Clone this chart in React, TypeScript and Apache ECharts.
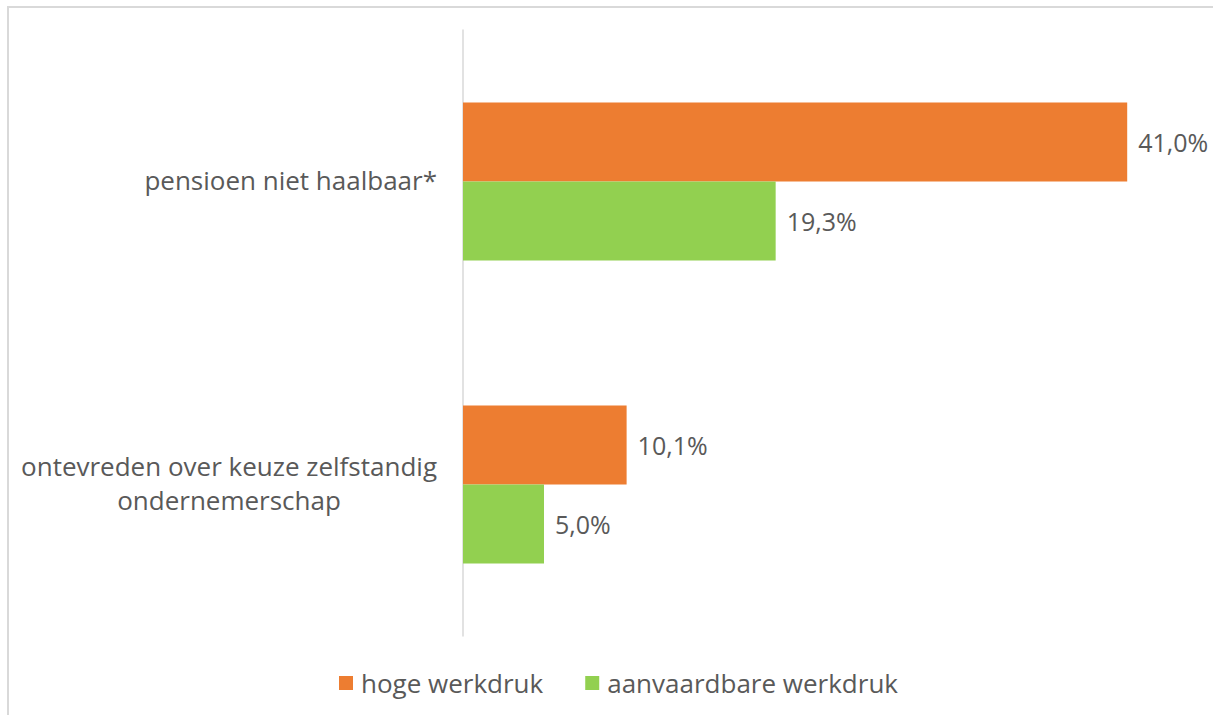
import React, { useEffect, useRef } from "react";
import * as echarts from "echarts";

const categories = ["pensioen niet haalbaar*", "ontevreden over keuze zelfstandig\nondernemerschap"];
const seriesNames = ["hoge werkdruk", "aanvaardbare werkdruk"];
const hogeWerkdruk = [41.0, 10.1];
const aanvaardbareWerkdruk = [19.3, 5.0];

const TEXT = "#595959";
const FONT = "'Open Sans', sans-serif";

export default function App() {
  const ref = useRef<HTMLDivElement>(null);
  useEffect(() => {
    if (!ref.current) return;
    const chart = echarts.init(ref.current, undefined, { renderer: "svg" });
    const fmt = (p: any) => p.value.toFixed(1).replace(".", ",") + "%";
    chart.setOption({
      animation: false,
      textStyle: { fontFamily: FONT },
      graphic: [
        { type: "line", shape: { x1: 7, y1: 7, x2: 1213, y2: 7 }, style: { stroke: "#d9d9d9", lineWidth: 2 } },
        { type: "line", shape: { x1: 8, y1: 7, x2: 8, y2: 715 }, style: { stroke: "#d9d9d9", lineWidth: 2 } },
      ],
      grid: { left: 463, right: 21, top: 30, bottom: 79 },
      xAxis: { type: "value", min: 0, max: 45, show: false, splitLine: { show: false } },
      yAxis: {
        type: "category",
        inverse: true,
        data: categories,
        axisTick: { show: false },
        axisLine: { lineStyle: { color: "#d9d9d9", width: 1.5 } },
        axisLabel: {
          margin: 26,
          align: "right",
          color: TEXT,
          fontSize: 26,
          fontFamily: FONT,
          lineHeight: 34,
          padding: [0, 0, 4, 0],
          formatter: (v: string) => v.split("\n").map((l) => "{a|" + l + "}").join("\n"),
          rich: { a: { align: "center", fontSize: 26, color: TEXT, fontFamily: FONT, lineHeight: 34 } },
        },
      },
      legend: {
        bottom: 14,
        left: 334,
        icon: "rect",
        itemWidth: 14,
        itemHeight: 14,
        itemGap: 42,
        textStyle: { fontSize: 26, color: TEXT, fontFamily: FONT, padding: [0, 0, 0, 3] },
        data: seriesNames,
      },
      series: [
        {
          name: seriesNames[0],
          type: "bar",
          data: hogeWerkdruk,
          barWidth: 79,
          barGap: "0%",
          itemStyle: { color: "#ED7D31" },
          label: { show: true, position: "right", distance: 11, color: TEXT, fontSize: 25, fontFamily: FONT, formatter: fmt },
        },
        {
          name: seriesNames[1],
          type: "bar",
          data: aanvaardbareWerkdruk,
          barWidth: 79,
          barGap: "0%",
          itemStyle: { color: "#92D050" },
          label: { show: true, position: "right", distance: 11, color: TEXT, fontSize: 25, fontFamily: FONT, formatter: fmt },
        },
      ],
    });
    return () => chart.dispose();
  }, []);
  return (
    <div style={{ position: "absolute", left: 0, top: 0, width: 1213, height: 715, background: "#fff" }}>
      <div ref={ref} style={{ width: 1213, height: 715 }} />
    </div>
  );
}
